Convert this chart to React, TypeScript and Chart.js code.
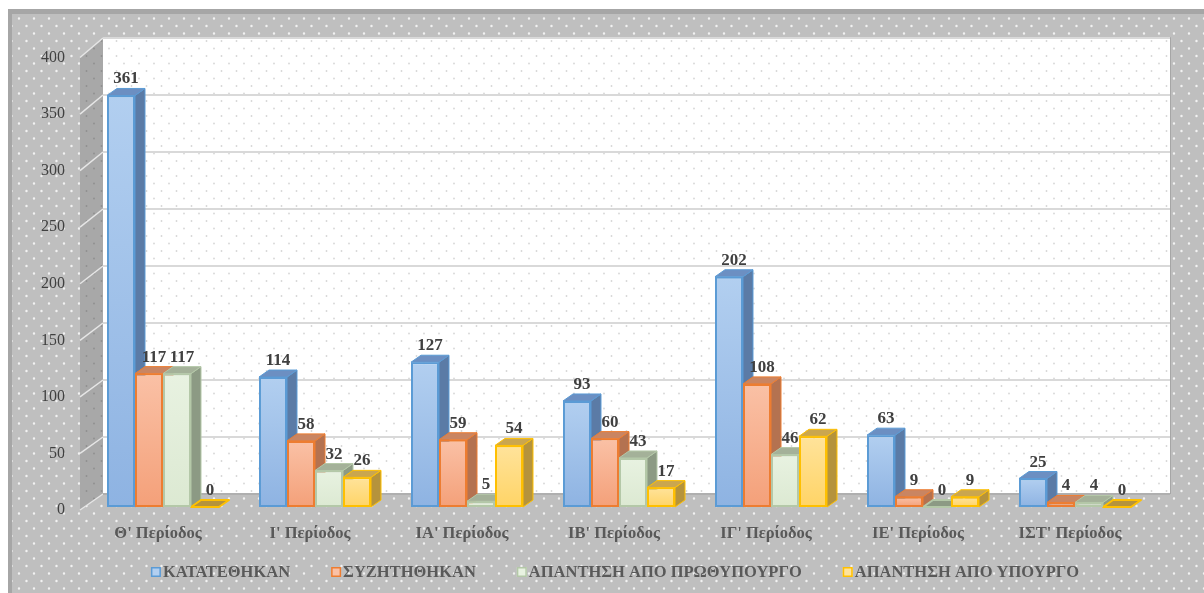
import React, { useEffect, useRef } from "react";
import { Chart, registerables } from "chart.js";

Chart.register(...registerables);

// Parliamentary periods and question counts per period
const periods = [
  "Θ' Περίοδος",
  "Ι' Περίοδος",
  "ΙΑ' Περίοδος",
  "ΙΒ' Περίοδος",
  "ΙΓ' Περίοδος",
  "ΙΕ' Περίοδος",
  "ΙΣΤ' Περίοδος",
];
const filed = [361, 114, 127, 93, 202, 63, 25];
const discussed = [117, 58, 59, 60, 108, 9, 4];
const answeredByPM = [117, 32, 5, 43, 46, 0, 4];
const answeredByMinister = [0, 26, 54, 17, 62, 9, 0];
const seriesNames = [
  "ΚΑΤΑΤΕΘΗΚΑΝ",
  "ΣΥΖΗΤΗΘΗΚΑΝ",
  "ΑΠΑΝΤΗΣΗ ΑΠΟ ΠΡΩΘΥΠΟΥΡΓΟ",
  "ΑΠΑΝΤΗΣΗ ΑΠΟ ΥΠΟΥΡΓΟ",
];
const yTicks = [0, 50, 100, 150, 200, 250, 300, 350, 400];

// Face colours for each series: front gradient, border, top, side
const palette = [
  { light: "#b2cff0", dark: "#8eb3e2", border: "#5b9bd5", top: "#6c8fc2", side: "#5b7ba6" },
  { light: "#fac1a6", dark: "#f4a079", border: "#ed7d31", top: "#c98562", side: "#b47250" },
  { light: "#e8f2e1", dark: "#dce9d2", border: "#b4c8a8", top: "#a4b199", side: "#8c9a84" },
  { light: "#ffe39b", dark: "#ffd466", border: "#ffc000", top: "#caa64f", side: "#b5933c" },
];

const W = 1204;
const H = 593;
const SERIF = '"Liberation Serif", "Times New Roman", serif';

// depth offsets for the 3D look
const BAR_DX = 10;
const BAR_DY = -7;
const WALL_BACK_DX = 16; // back wall left edge, relative to chart area left
const WALL_FRONT_DX = -7; // left wall front edge, relative to chart area left
const WALL_RIGHT_DX = 19;
const BACK_DY = -13;

function dotPattern(ctx: CanvasRenderingContext2D, bg: string, dot: string, r: number) {
  const c = document.createElement("canvas");
  c.width = 15;
  c.height = 15;
  const g = c.getContext("2d")!;
  g.fillStyle = bg;
  g.fillRect(0, 0, 15, 15);
  g.fillStyle = dot;
  g.beginPath();
  g.arc(4, 3.5, r, 0, Math.PI * 2);
  g.arc(11.5, 11, r, 0, Math.PI * 2);
  g.fill();
  return ctx.createPattern(c, "repeat")!;
}

const scenePlugin = {
  id: "scene3d",
  beforeDraw(chart: any) {
    const { ctx, chartArea } = chart;
    const y = chart.scales.y;
    const ys = (v: number) => y.getPixelForValue(v);
    const maxV = yTicks[yTicks.length - 1];
    // front edge of the left wall sits a little lower than the bar plane
    const fy = (v: number) => ys(v) + 3 + 3.5 * (v / maxV);
    const by = (v: number) => ys(v) + BACK_DY;
    ctx.save();
    ctx.fillStyle = "#ffffff";
    ctx.fillRect(0, 0, W, H);
    // outer frame
    ctx.fillStyle = "#a6a6a6";
    ctx.fillRect(8, 9, W - 8, H - 9);
    ctx.fillStyle = dotPattern(ctx, "#bfbfbf", "#f2f2f2", 1.2);
    ctx.fillRect(12, 14, W - 12, H - 14);

    const bx0 = chartArea.left + WALL_BACK_DX;
    const bx1 = chartArea.right + WALL_RIGHT_DX;
    const fx = chartArea.left + WALL_FRONT_DX;

    // back wall
    ctx.fillStyle = dotPattern(ctx, "#ffffff", "#d6d6d6", 0.9);
    ctx.fillRect(bx0, by(maxV), bx1 - bx0, by(0) - by(maxV));
    ctx.strokeStyle = "#a6a6a6";
    ctx.lineWidth = 1;
    ctx.beginPath();
    ctx.moveTo(bx0, by(maxV) - 0.5);
    ctx.lineTo(bx1 + 0.5, by(maxV) - 0.5);
    ctx.lineTo(bx1 + 0.5, by(0));
    ctx.stroke();

    // left wall
    ctx.fillStyle = dotPattern(ctx, "#a8a8a8", "#8f8f8f", 0.9);
    ctx.beginPath();
    ctx.moveTo(fx, fy(maxV));
    ctx.lineTo(bx0, by(maxV));
    ctx.lineTo(bx0, by(0));
    ctx.lineTo(fx, fy(0));
    ctx.closePath();
    ctx.fill();

    // gridlines on back wall and left wall
    for (const v of yTicks) {
      ctx.strokeStyle = "#d9d9d9";
      ctx.lineWidth = 2;
      ctx.beginPath();
      ctx.moveTo(bx0, by(v));
      ctx.lineTo(bx1, by(v));
      ctx.stroke();
      ctx.strokeStyle = "#e6e6e6";
      ctx.lineWidth = 1.5;
      ctx.beginPath();
      ctx.moveTo(fx, fy(v));
      ctx.lineTo(bx0, by(v));
      ctx.stroke();
    }
    // floor back edge
    ctx.strokeStyle = "#a0a0a0";
    ctx.lineWidth = 1.5;
    ctx.beginPath();
    ctx.moveTo(bx0, by(0));
    ctx.lineTo(bx1, by(0));
    ctx.stroke();
    ctx.restore();
  },
  beforeDatasetsDraw(chart: any) {
    const { ctx } = chart;
    const n = periods.length;
    ctx.save();
    ctx.lineWidth = 1;
    ctx.lineJoin = "round";
    for (let i = 0; i < n; i++) {
      chart.data.datasets.forEach((_: any, d: number) => {
        const meta = chart.getDatasetMeta(d);
        const el = meta.data[i];
        if (!el) return;
        const { x, y, base, width } = el.getProps(["x", "y", "base", "width"], true);
        const x0 = x - width / 2;
        const x1 = x + width / 2;
        const p = palette[d];
        // side face
        if (base - y > 0.5) {
          ctx.fillStyle = p.side;
          ctx.strokeStyle = p.border;
          ctx.beginPath();
          ctx.moveTo(x1, y);
          ctx.lineTo(x1 + BAR_DX, y + BAR_DY);
          ctx.lineTo(x1 + BAR_DX, base + BAR_DY);
          ctx.lineTo(x1, base);
          ctx.closePath();
          ctx.fill();
          ctx.stroke();
        }
        // top face
        ctx.fillStyle = base - y > 0.5 ? p.top : p.side;
        ctx.strokeStyle = p.border;
        ctx.lineWidth = base - y > 0.5 ? 1 : 2;
        ctx.beginPath();
        ctx.moveTo(x0, y);
        ctx.lineTo(x1, y);
        ctx.lineTo(x1 + BAR_DX, y + BAR_DY);
        ctx.lineTo(x0 + BAR_DX, y + BAR_DY);
        ctx.closePath();
        ctx.fill();
        ctx.stroke();
        ctx.lineWidth = 1;
      });
    }
    ctx.restore();
  },
  afterDatasetsDraw(chart: any) {
    const { ctx } = chart;
    ctx.save();
    ctx.font = `bold 17px ${SERIF}`;
    ctx.fillStyle = "#404040";
    ctx.textAlign = "center";
    ctx.textBaseline = "alphabetic";
    chart.data.datasets.forEach((ds: any, d: number) => {
      const meta = chart.getDatasetMeta(d);
      meta.data.forEach((el: any, i: number) => {
        const { x, y } = el.getProps(["x", "y"], true);
        ctx.fillText(String(ds.data[i]), x + 5, y + BAR_DY - 5);
      });
    });
    ctx.restore();
  },
  afterDraw(chart: any) {
    const { ctx, chartArea } = chart;
    const y = chart.scales.y;
    const xs = chart.scales.x;
    const maxV = yTicks[yTicks.length - 1];
    ctx.save();
    // value axis labels
    ctx.font = `16px ${SERIF}`;
    ctx.fillStyle = "#404040";
    ctx.textAlign = "right";
    ctx.textBaseline = "middle";
    for (const v of yTicks) {
      const py = y.getPixelForValue(v) + 3 + 3.5 * (v / maxV);
      ctx.fillText(String(v), 65, py);
    }
    // category labels
    ctx.font = `bold 16.5px ${SERIF}`;
    ctx.fillStyle = "#595959";
    ctx.textAlign = "center";
    periods.forEach((p, i) => {
      ctx.fillText(p, xs.getPixelForValue(i) - 5, chartArea.bottom + 27);
    });
    // legend
    ctx.font = `bold 16.5px ${SERIF}`;
    const box = 10;
    const gap = 2;
    const spacing = 41;
    const widths = seriesNames.map((s) => box + gap + ctx.measureText(s).width);
    const total = widths.reduce((a, b) => a + b, 0) + spacing * (seriesNames.length - 1);
    let lx = 615 - total / 2;
    const ly = 572;
    ctx.textAlign = "left";
    seriesNames.forEach((s, i) => {
      const p = palette[i];
      ctx.fillStyle = p.light;
      ctx.fillRect(lx, ly - box / 2, box, box);
      ctx.strokeStyle = p.border;
      ctx.lineWidth = 1.5;
      ctx.strokeRect(lx + 0.75, ly - box / 2 + 0.75, box - 1.5, box - 1.5);
      ctx.fillStyle = "#595959";
      ctx.fillText(s, lx + box + gap, ly + 1);
      lx += widths[i] + spacing;
    });
    ctx.restore();
  },
};

const seriesValues = [filed, discussed, answeredByPM, answeredByMinister];

export default function App() {
  const canvasRef = useRef<HTMLCanvasElement | null>(null);

  useEffect(() => {
    const canvas = canvasRef.current;
    if (!canvas) return;
    const chart = new Chart(canvas, {
      type: "bar",
      data: {
        labels: periods,
        datasets: seriesValues.map((values, d) => ({
          label: seriesNames[d],
          data: values,
          borderColor: palette[d].border,
          borderWidth: 2,
          borderSkipped: false,
          backgroundColor: (c: any) => {
            const ch = c.chart;
            const ys = ch.scales?.y;
            if (!ys || typeof c.raw !== "number") return palette[d].dark;
            const top = ys.getPixelForValue(c.raw);
            const bottom = ys.getPixelForValue(0);
            if (!Number.isFinite(top) || !Number.isFinite(bottom) || bottom - top < 1) {
              return palette[d].dark;
            }
            const g = ch.ctx.createLinearGradient(0, top, 0, bottom);
            g.addColorStop(0, palette[d].light);
            g.addColorStop(1, palette[d].dark);
            return g;
          },
          categoryPercentage: 0.737,
          barPercentage: 1,
        })),
      },
      options: {
        responsive: false,
        animation: false,
        layout: { padding: { left: 87, right: 53, top: 51, bottom: 86 } },
        plugins: {
          legend: { display: false },
          tooltip: { enabled: false },
        },
        scales: {
          x: { display: false },
          y: { display: false, min: 0, max: 400 },
        },
      },
      plugins: [scenePlugin],
    });
    return () => chart.destroy();
  }, []);

  return (
    <div style={{ position: "absolute", left: 0, top: 0, width: W, height: H }}>
      <canvas ref={canvasRef} width={W} height={H} style={{ display: "block" }} />
    </div>
  );
}
